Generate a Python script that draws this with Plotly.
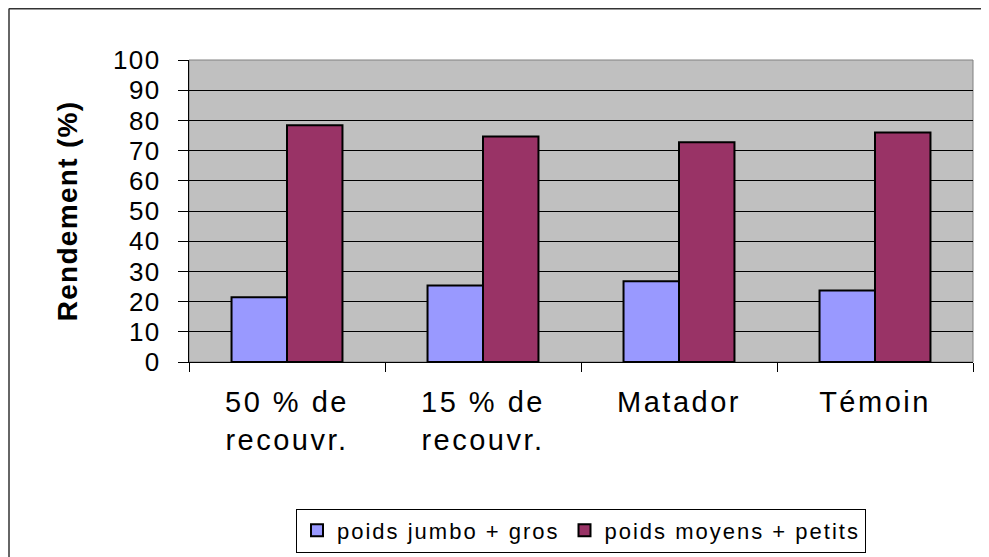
import plotly.graph_objects as go

# data
categories = ["50 % de recouvr.", "15 % de recouvr.", "Matador", "Témoin"]
category_labels = [["50 % de", "recouvr."], ["15 % de", "recouvr."], ["Matador"], ["Témoin"]]
jumbo_gros = [21.4, 25.3, 26.7, 23.7]
moyens_petits = [78.4, 74.7, 72.8, 76.0]
series_names = ["poids jumbo + gros", "poids moyens + petits"]
y_ticks = list(range(0, 101, 10))

COLORS = {
    "blue": "#9999FF",
    "maroon": "#993366",
    "plot_bg": "#C0C0C0",
}


def spaced(text, px):
    # Excel-like letter spacing
    return f"<span style='letter-spacing:{px}px'>{text}</span>"


# page body has an 8px margin, so the figure is 8px smaller than the window
W, H = 981, 549
L, R, T, B = 181, 16, 52, 195
pw, ph = W - L - R, H - T - B

font = "Liberation Sans, Arial, sans-serif"

fig = go.Figure()
fig.add_trace(go.Bar(
    x=categories, y=jumbo_gros, name=spaced(series_names[0], 2),
    marker=dict(color=COLORS["blue"], line=dict(color="black", width=2)),
))
fig.add_trace(go.Bar(
    x=categories, y=moyens_petits, name=spaced(series_names[1], 2),
    marker=dict(color=COLORS["maroon"], line=dict(color="black", width=2)),
))

fig.update_layout(
    width=W, height=H,
    margin=dict(l=L, r=R, t=T, b=B, autoexpand=False),
    paper_bgcolor="white",
    plot_bgcolor=COLORS["plot_bg"],
    barmode="group",
    bargap=0.434,
    bargroupgap=0,
    font=dict(family=font, color="black"),
    xaxis=dict(
        type="category",
        tickmode="array",
        tickvals=categories,
        ticktext=["<br>".join(spaced(p, 2.5) for p in parts) for parts in category_labels],
        tickson="boundaries",
        ticks="outside", ticklen=9, tickcolor="black", tickwidth=1,
        tickfont=dict(size=29),
        ticklabelstandoff=14,
        showline=True, linecolor="black", linewidth=1,
        showgrid=False,
        automargin=False,
    ),
    yaxis=dict(
        range=[0, 100],
        tickmode="array",
        tickvals=y_ticks,
        ticktext=[spaced(str(v), 1.5) for v in y_ticks],
        ticks="outside", ticklen=10, tickcolor="black", tickwidth=1,
        tickfont=dict(size=26),
        ticklabelstandoff=12,
        showline=True, linecolor="black", linewidth=1,
        showgrid=True, gridcolor="black", gridwidth=1,
        zeroline=False,
        automargin=False,
        title=dict(text="<b>" + spaced("Rendement (%)", 1.3) + "</b>",
                   font=dict(size=28), standoff=27),
    ),
    legend=dict(
        orientation="h",
        x=0.5, xanchor="center",
        y=(H - B - 522.5) / ph, yanchor="middle",
        bordercolor="black", borderwidth=1,
        font=dict(size=22),
        bgcolor="white",
        itemwidth=30,
    ),
    showlegend=True,
)

# gray plot frame on top/right
fig.add_shape(type="rect", xref="paper", yref="paper", x0=0, x1=1, y0=0, y1=1,
              line=dict(color="#808080", width=1), layer="below")
# outer chart border (only top and left edges fall inside the picture)
fig.add_shape(type="line", xref="paper", yref="paper",
              x0=(1 - L) / pw, x1=(W - L) / pw,
              y0=(H - B - 0.5) / ph, y1=(H - B - 0.5) / ph,
              line=dict(color="#333333", width=2))
fig.add_shape(type="line", xref="paper", yref="paper",
              x0=(1 - L) / pw, x1=(1 - L) / pw,
              y0=(H - B - 0.5) / ph, y1=(H - B - H) / ph,
              line=dict(color="#333333", width=1.5))

fig.write_html("out.html")
